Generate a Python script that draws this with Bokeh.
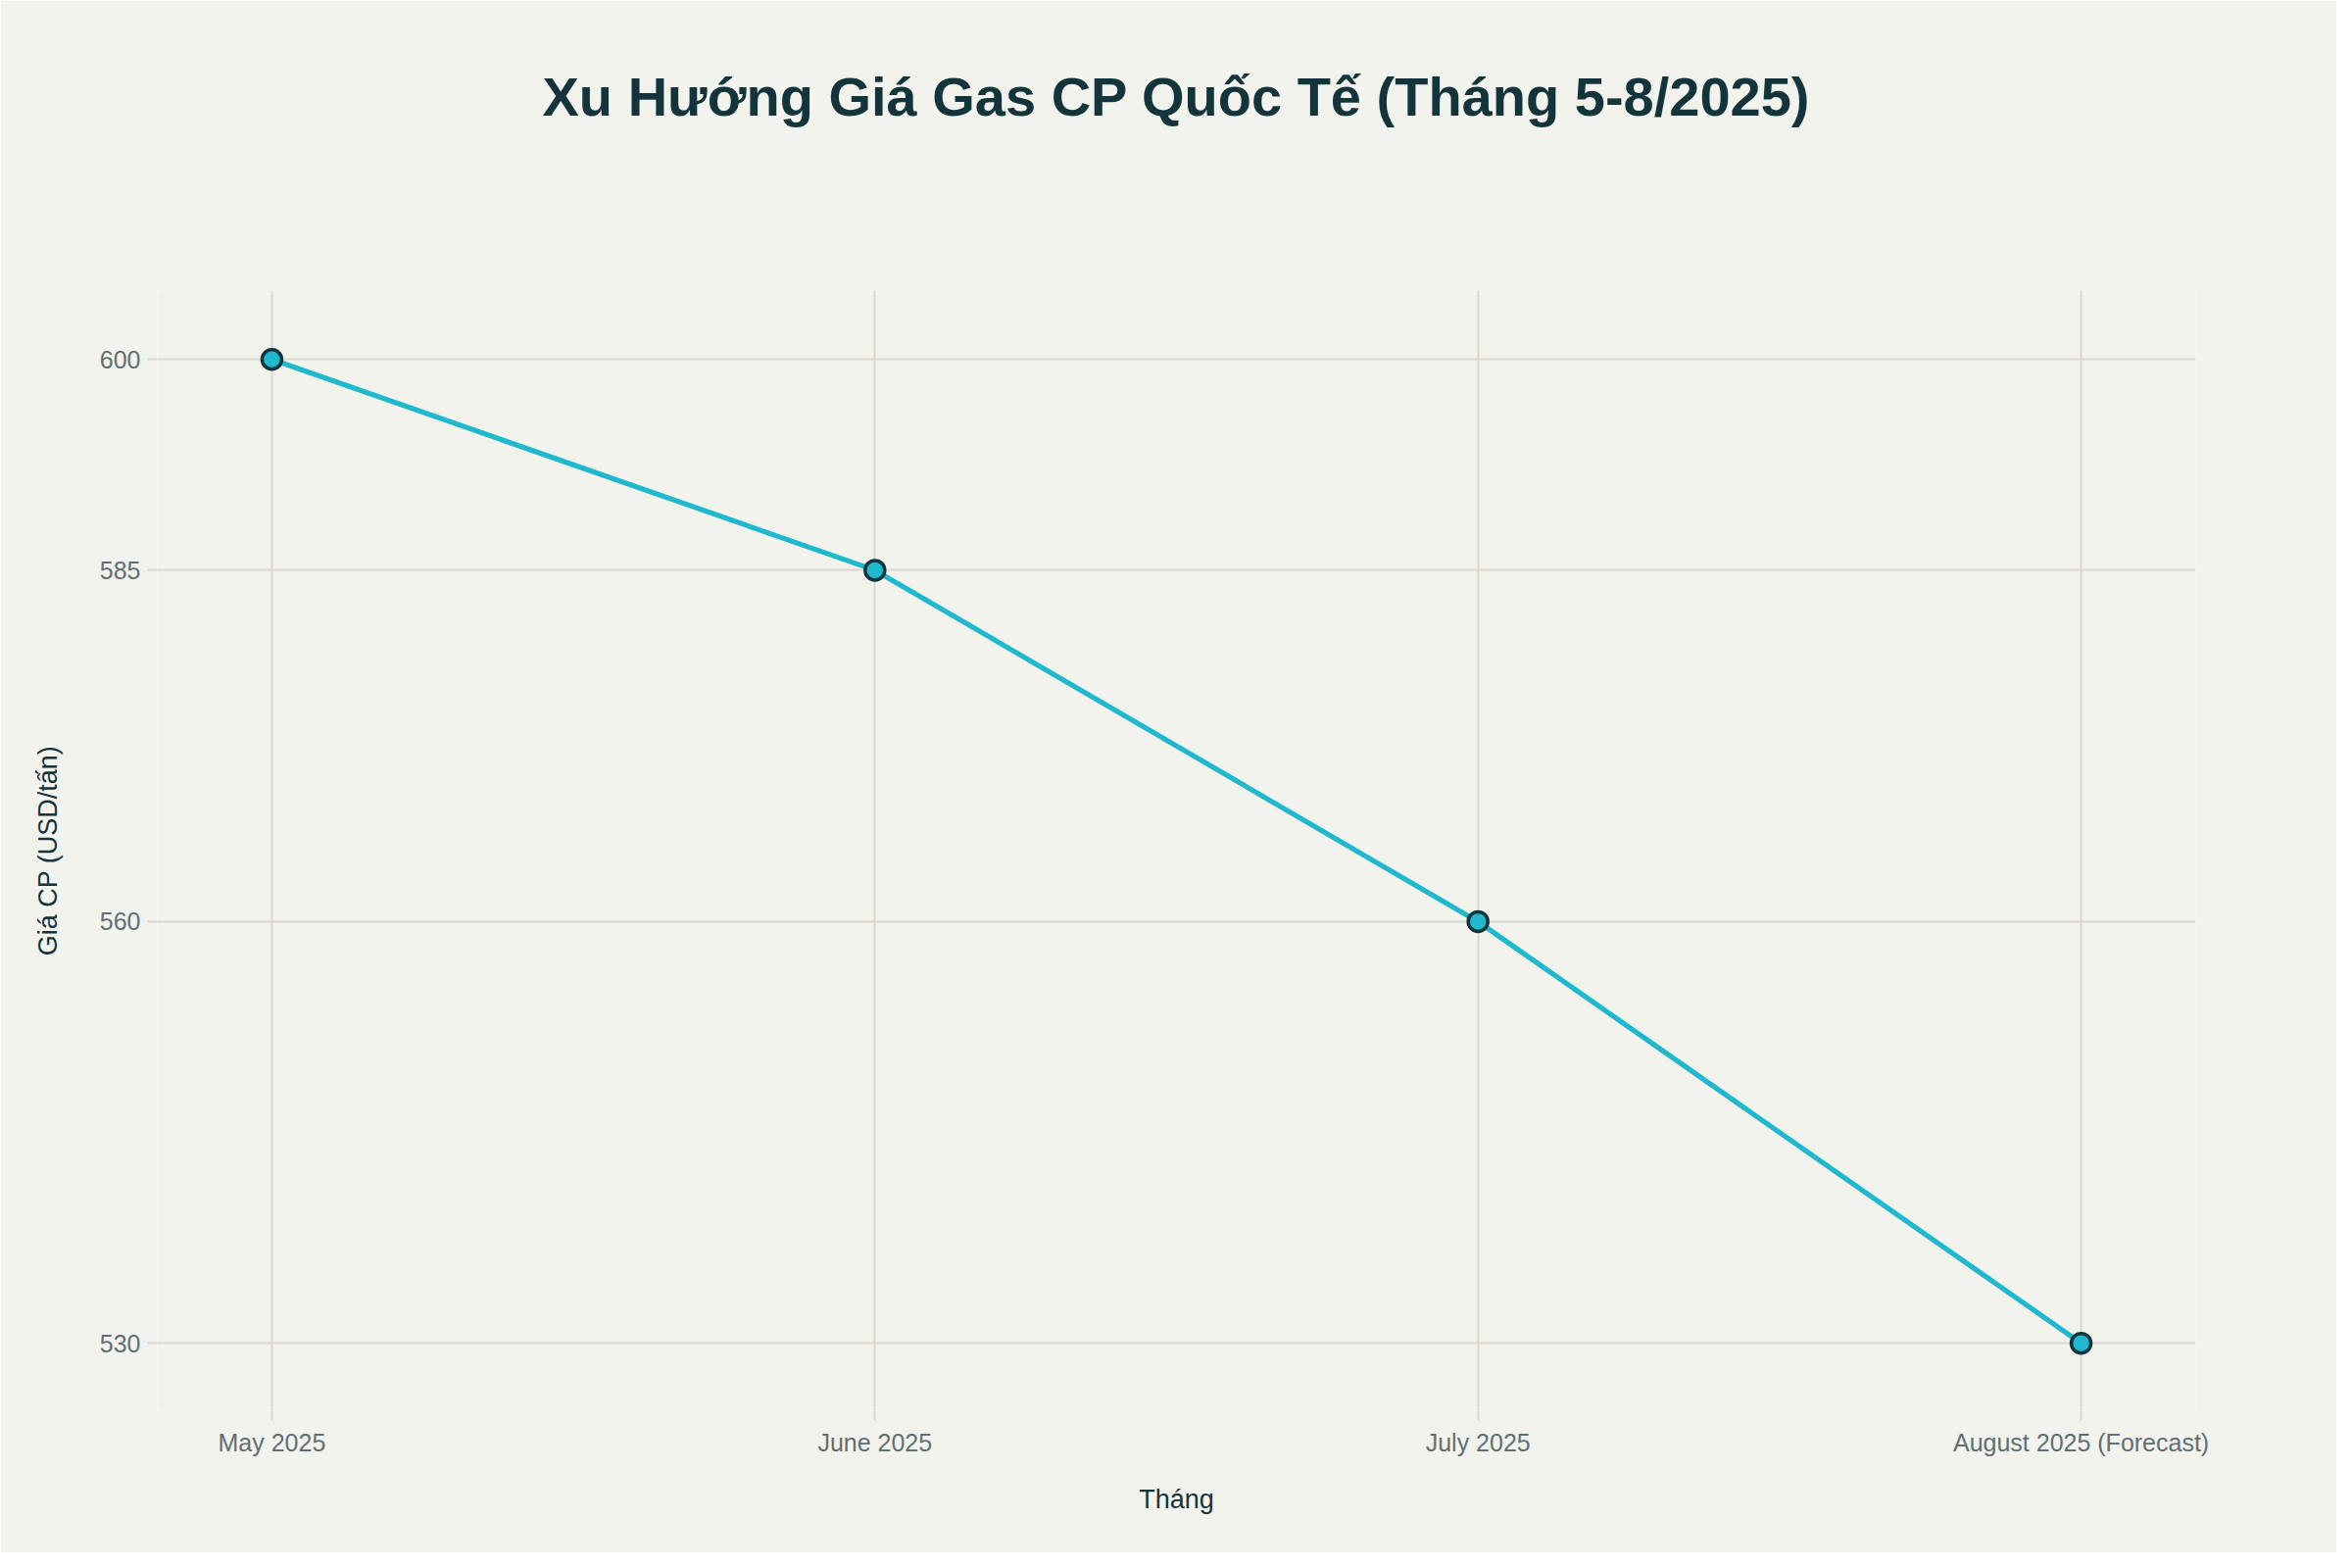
from bokeh.plotting import figure
from bokeh.models import Range1d, FixedTicker, Title
from bokeh.embed import file_html
from bokeh.resources import INLINE

months = ["May 2025", "June 2025", "July 2025", "August 2025 (Forecast)"]
prices = [600, 585, 560, 530]
y_ticks = [530, 560, 585, 600]

BG = "#f3f3ee"
DARK = "#13343b"
TICK = "#5f6f74"
GRID = "#d9d6d0"
LINE = "#1fb8cd"
FONT = "Liberation Sans"

xs = list(range(len(months)))

p = figure(width=2384, height=1584, output_backend="svg", toolbar_location=None,
           x_range=Range1d(-0.19, 3.19), y_range=Range1d(525.2, 604.9),
           min_border_left=160, min_border_right=144, min_border_top=296,
           min_border_bottom=145)

p.background_fill_color = BG
p.border_fill_color = BG
p.outline_line_color = None

# spacer between the title and the plot area
spacer = Title(text=" ", text_font_size="10px", standoff=149, text_color=BG)
p.add_layout(spacer, "above")

t = Title(text="Xu Hướng Giá Gas CP Quốc Tế (Tháng 5-8/2025)", align="center",
          text_font=FONT, text_font_size="56px", text_font_style="bold",
          text_color=DARK, standoff=10)
p.add_layout(t, "above")

p.line(xs, prices, line_color=LINE, line_width=5.2)
p.scatter(xs, prices, size=20, fill_color=LINE, line_color=DARK, line_width=3.5)

p.xaxis.ticker = FixedTicker(ticks=xs)
p.xaxis.major_label_overrides = {i: m for i, m in zip(xs, months)}
p.yaxis.ticker = FixedTicker(ticks=y_ticks)

for ax in (p.xaxis[0], p.yaxis[0]):
    ax.axis_line_color = None
    ax.major_tick_in = 0
    ax.major_tick_out = 10
    ax.major_tick_line_color = GRID
    ax.major_tick_line_width = 2
    ax.minor_tick_line_color = None
    ax.major_label_text_font = FONT
    ax.major_label_text_font_size = "25px"
    ax.major_label_text_color = TICK
    ax.axis_label_text_font = FONT
    ax.axis_label_text_font_size = "27px"
    ax.axis_label_text_font_style = "normal"
    ax.axis_label_text_color = DARK

p.xaxis.axis_label = "Tháng"
p.yaxis.axis_label = "Giá CP (USD/tấn)"
p.xaxis.major_label_standoff = 8
p.xaxis.axis_label_standoff = 26
p.yaxis.major_label_standoff = 7
p.yaxis.axis_label_standoff = 35

p.xgrid.grid_line_color = GRID
p.xgrid.grid_line_width = 2
p.ygrid.grid_line_color = GRID
p.ygrid.grid_line_width = 2

open("out.html", "w").write(file_html(p, INLINE))
